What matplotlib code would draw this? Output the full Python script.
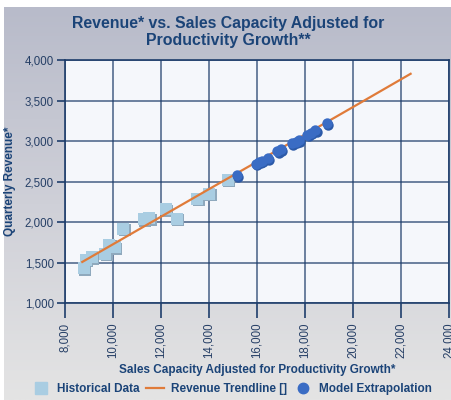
import numpy as np
import matplotlib
matplotlib.use("Agg")
import matplotlib.pyplot as plt
from matplotlib.lines import Line2D
from matplotlib.colors import LinearSegmentedColormap
from matplotlib.transforms import offset_copy

plt.rcParams['font.family'] = ['Liberation Sans', 'DejaVu Sans']

# Historical data (squares)
hist_x = [8780, 8860, 9110, 9670, 9850, 10080, 10430, 11290, 11510, 12200, 12650, 13510, 14010, 14780]
hist_y = [1432, 1534, 1568, 1609, 1720, 1691, 1917, 2037, 2049, 2160, 2044, 2291, 2353, 2522]

# Model extrapolation (dots)
model_x = [15150, 15950, 16100, 16200, 16450, 16850, 16990, 17450, 17620, 17750, 18100, 18250, 18420, 18900]
model_y = [2580, 2720, 2745, 2760, 2790, 2872, 2901, 2975, 2995, 3010, 3078, 3100, 3131, 3222]

# Revenue trendline
trend_x = [8720, 10000, 12000, 14000, 16000, 18000, 20000, 22400]
trend_y = [1510, 1728, 2068, 2408, 2745, 3080, 3420, 3830]

x_ticks = [8000, 10000, 12000, 14000, 16000, 18000, 20000, 22000, 24000]
y_ticks = [1000, 1500, 2000, 2500, 3000, 3500, 4000]

navy = '#1e3d6b'
text_blue = '#1b4478'

fig = plt.figure(figsize=(4.52, 4.0), dpi=100)
fig.patch.set_facecolor('white')

# gradient background panel
bg = fig.add_axes([4 / 452, 0, 448 / 452, 393 / 400], zorder=-5)
cmap = LinearSegmentedColormap.from_list('bg', ['#b8bbca', '#cfd0d8', '#e4e4e4'])
grad = np.linspace(0, 1, 256).reshape(-1, 1)
bg.imshow(grad, aspect='auto', cmap=cmap, extent=[0, 1, 0, 1], origin='upper')
bg.set_axis_off()

ax = fig.add_axes([65 / 452, 1 - 303.3 / 400, 384 / 452, 243.3 / 400])
ax.set_facecolor('#f5f7fb')
ax.set_xlim(8000, 24000)
ax.set_ylim(1000, 4000)
ax.set_xticks(x_ticks)
ax.set_yticks(y_ticks)
ax.set_xticklabels([f'{v:,}' for v in x_ticks], rotation=90)
ax.set_yticklabels([f'{v:,}' for v in y_ticks])
ax.grid(True, color=navy, linewidth=1.2, alpha=0.75)
ax.set_axisbelow(True)
for s in ax.spines.values():
    s.set_color(navy)
    s.set_linewidth(1.2)
ax.tick_params(axis='x', length=11, width=1.2, color=navy, labelsize=8.3, labelcolor='#263f66', pad=3)
ax.tick_params(axis='y', length=6, width=1.2, color=navy, labelsize=8.3, labelcolor='#263f66', pad=2)

shadow = offset_copy(ax.transData, fig=fig, x=1.5, y=-1.5, units='dots')
ax.scatter(hist_x, hist_y, marker='s', s=64, color='#8fa9bd', transform=shadow, zorder=3, linewidths=0)
ax.scatter(hist_x, hist_y, marker='s', s=64, color='#a9cde2', zorder=4, linewidths=0)
ax.plot(trend_x, trend_y, color='#e07b39', linewidth=1.6, zorder=5)
ax.scatter(model_x, model_y, marker='o', s=56, color='#2c5aa8', transform=shadow, zorder=6, linewidths=0)
ax.scatter(model_x, model_y, marker='o', s=56, color='#3a6cc4', zorder=7, linewidths=0)

ax.set_xlabel('Sales Capacity Adjusted for Productivity Growth*', fontsize=8.5,
              fontweight='bold', color=text_blue, labelpad=4)
ax.set_ylabel('Quarterly Revenue*', fontsize=8.5, fontweight='bold', color=text_blue, labelpad=6)

fig.text(0.505, 0.92, 'Revenue* vs. Sales Capacity Adjusted for\nProductivity Growth**',
         ha='center', va='center', fontsize=11.4, fontweight='bold', color=text_blue,
         linespacing=1.2)

handles = [
    Line2D([], [], marker='s', linestyle='none', markersize=8, color='#a9cde2'),
    Line2D([], [], color='#e07b39', linewidth=1.6),
    Line2D([], [], marker='o', linestyle='none', markersize=7.5, color='#3a6cc4'),
]
labels = ['Historical Data', 'Revenue Trendline []', 'Model Extrapolation']
leg = fig.legend(handles, labels, loc='center', bbox_to_anchor=(0.513, 0.028), ncol=3,
                 frameon=False, handlelength=1.5, columnspacing=0.6, handletextpad=0.6,
                 prop={'size': 8.5, 'weight': 'bold'})
for t in leg.get_texts():
    t.set_color(text_blue)

fig.savefig('out.png', dpi=100)
